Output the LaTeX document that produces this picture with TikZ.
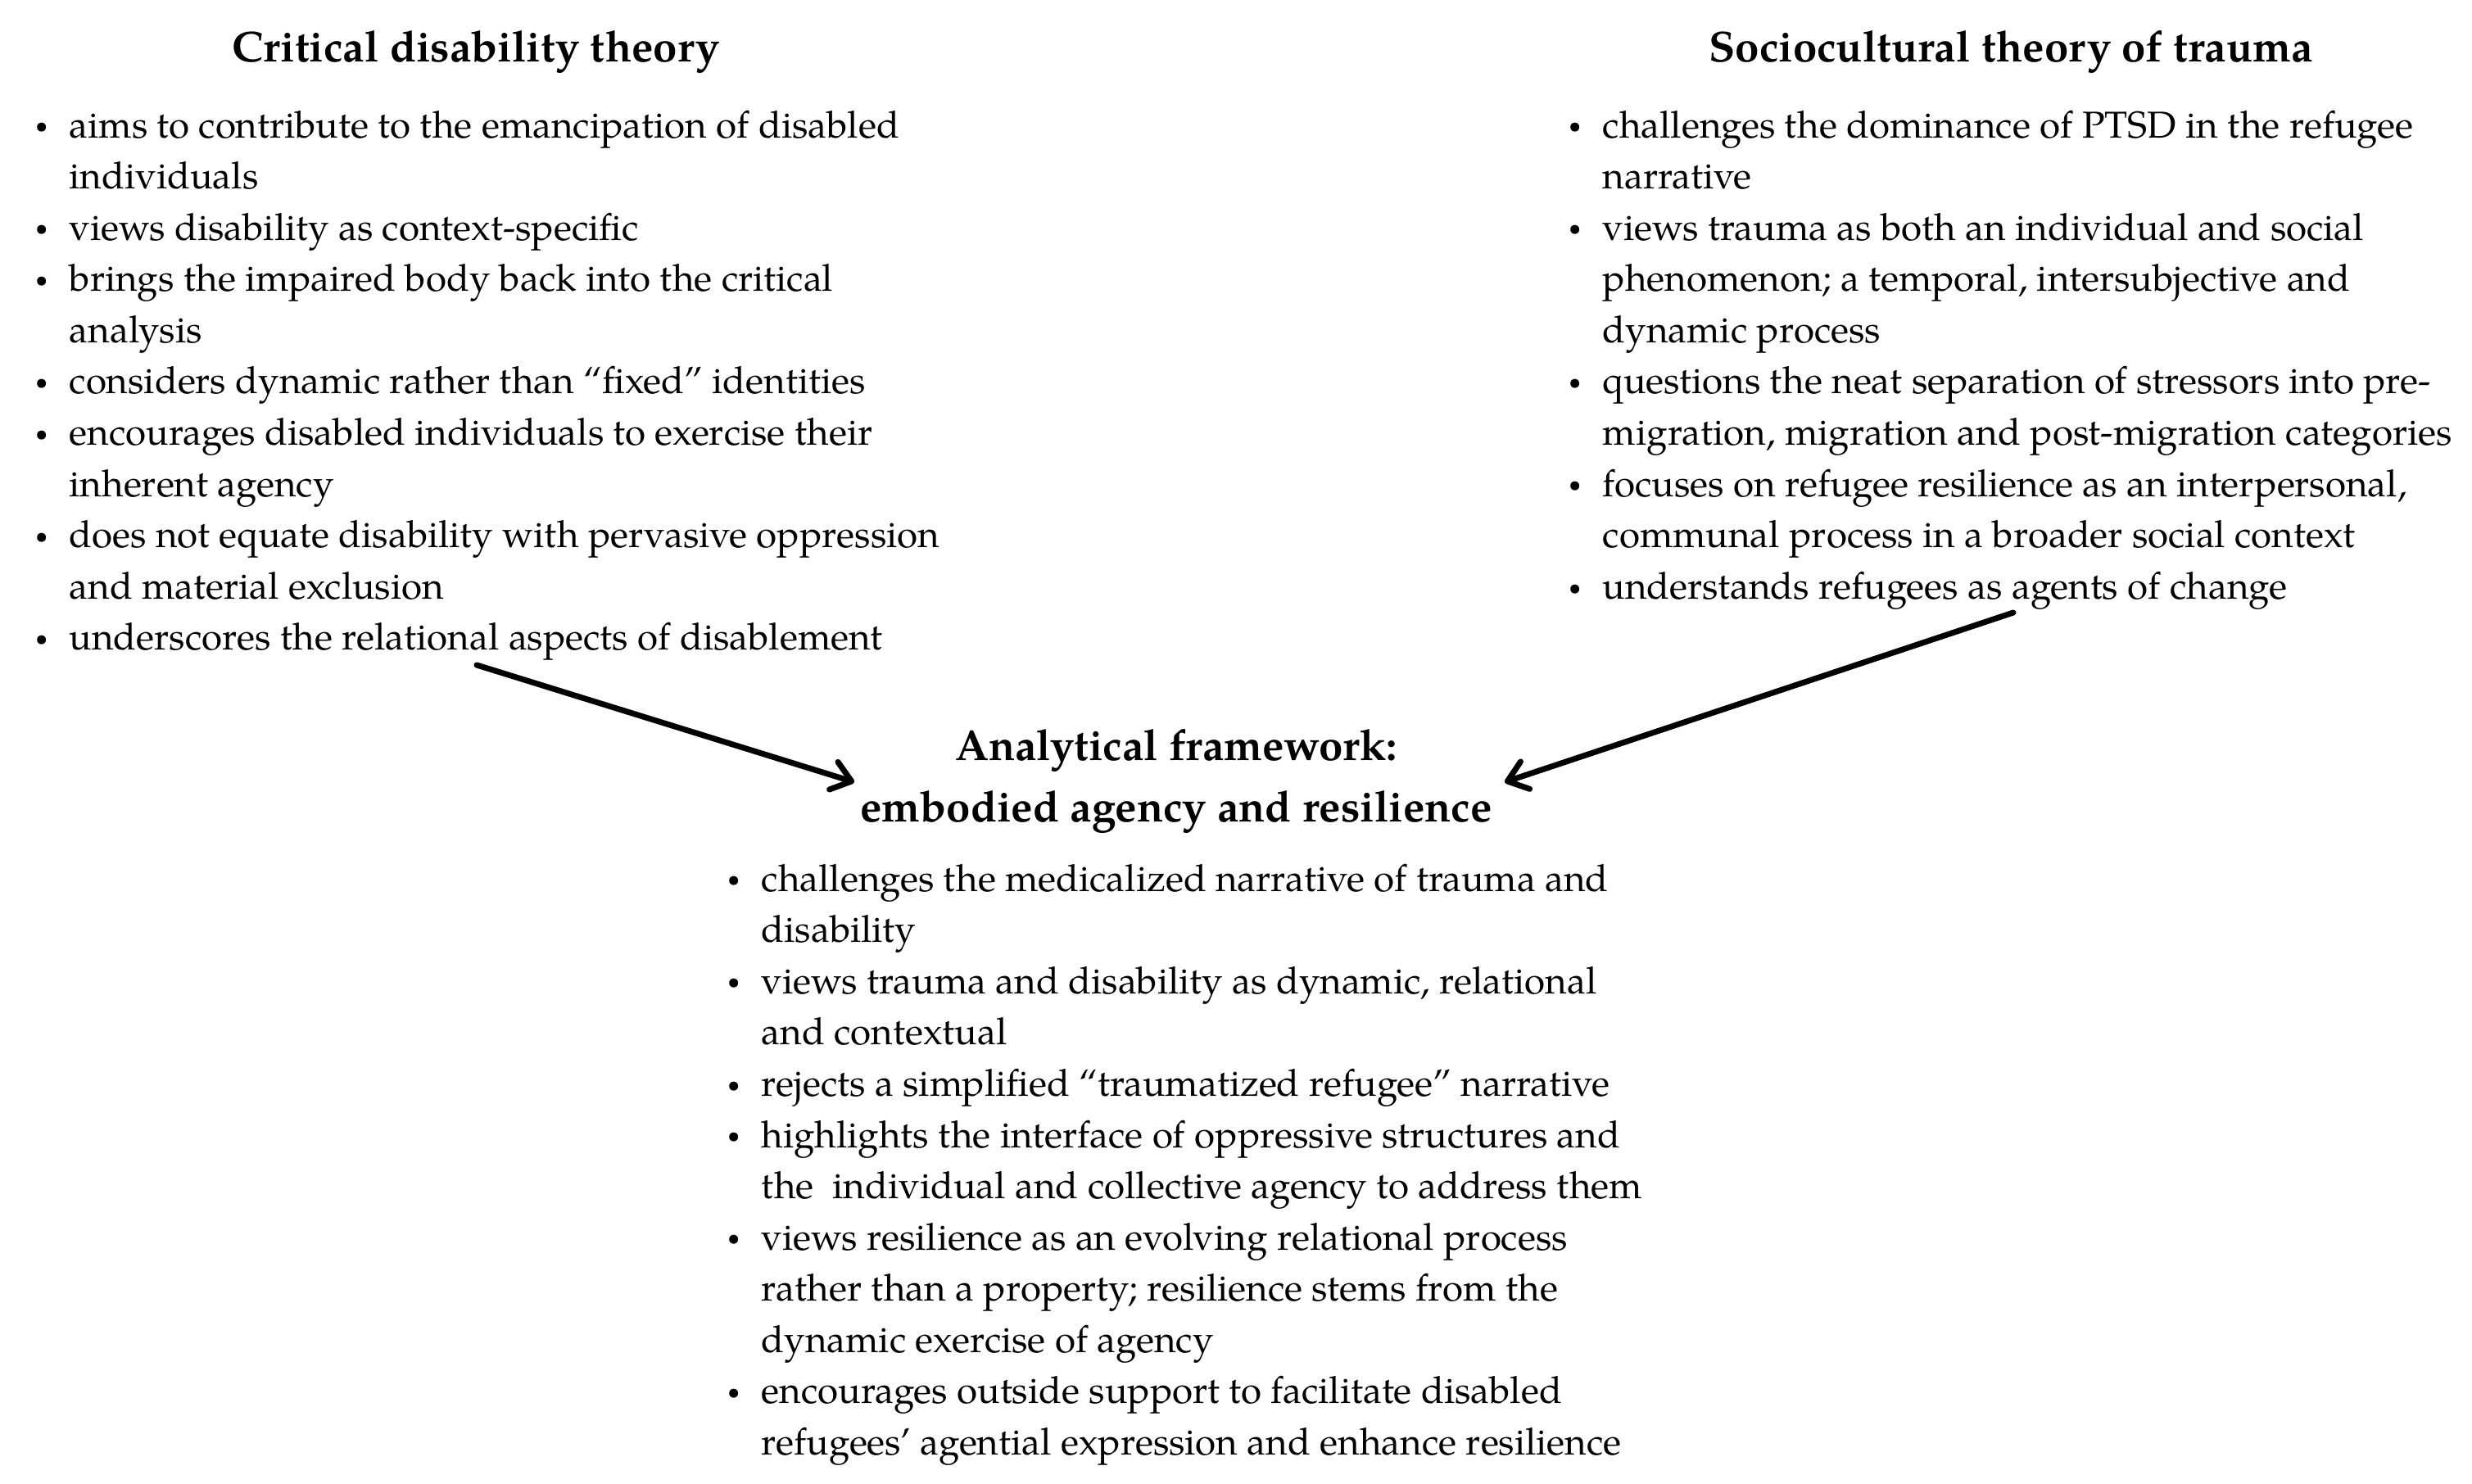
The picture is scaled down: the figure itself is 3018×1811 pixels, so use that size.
\documentclass[tikz,border=0pt]{standalone}
\usepackage{fontspec}
\setmainfont{TeX Gyre Pagella}
\usepackage{array}
\usepackage{graphicx}
\usetikzlibrary{arrows.meta}
\newcommand{\bul}{\raisebox{0.25ex}{\scalebox{0.6}{\textbullet}}}
\newcommand{\bulcols}[1]{\renewcommand{\arraystretch}{1}\begin{tabular}[t]{@{}wc{0.68cm}@{}l@{}}#1\end{tabular}}
\tikzset{
  coltext/.style={anchor=base west, inner sep=0pt, font=\fontsize{13}{17.8}\selectfont},
  heading/.style={anchor=base, inner sep=0pt, font=\fontsize{15}{17.8}\selectfont\bfseries},
  arr/.style={line width=2pt, line cap=round, -{Straight Barb[length=6.5pt, width=10pt, line width=2pt, round]}}
}
\begin{document}
\begin{tikzpicture}[x=0.01cm, y=-0.01cm]
\useasboundingbox (0,0) rectangle (3018,1811);
\node[heading] (lt) at (581,75) {Critical disability theory};
\node[heading] (rt) at (2455,75) {Sociocultural theory of trauma};
\node[heading] (ct1) at (1436,928) {Analytical framework:};
\node[heading] (ct2) at (1436,1003) {embodied agency and resilience};
\node[coltext] (lc) at (16,168) {\bulcols{
\bul & aims to contribute to the emancipation of disabled\\
 & individuals\\
\bul & views disability as context-specific\\
\bul & brings the impaired body back into the critical\\
 & analysis\\
\bul & considers dynamic rather than “fixed” identities\\
\bul & encourages disabled individuals to exercise their\\
 & inherent agency\\
\bul & does not equate disability with pervasive oppression\\
 & and material exclusion\\
\bul & underscores the relational aspects of disablement\\
}};
\node[coltext] (rc) at (1888,168) {\bulcols{
\bul & challenges the dominance of PTSD in the refugee\\
 & narrative\\
\bul & views trauma as both an individual and social\\
 & phenomenon; a temporal, intersubjective and\\
 & dynamic process\\
\bul & questions the neat separation of stressors into pre-\\
 & migration, migration and post-migration categories\\
\bul & focuses on refugee resilience as an interpersonal,\\
 & communal process in a broader social context\\
\bul & understands refugees as agents of change\\
}};
\node[coltext] (cc) at (861,1088) {\bulcols{
\bul & challenges the medicalized narrative of trauma and\\
 & disability\\
\bul & views trauma and disability as dynamic, relational\\
 & and contextual\\
\bul & rejects a simplified “traumatized refugee” narrative\\
\bul & highlights the interface of oppressive structures and\\
 & the\ \ individual and collective agency to address them\\
\bul & views resilience as an evolving relational process\\
 & rather than a property; resilience stems from the\\
 & dynamic exercise of agency\\
\bul & encourages outside support to facilitate disabled\\
 & refugees’ agential expression and enhance resilience\\
}};
\coordinate (ls) at (582,812);
\coordinate (le) at (1043,955);
\coordinate (rs) at (2458,748);
\coordinate (re) at (1837,955);
\draw[arr] (ls) -- (le);
\draw[arr] (rs) -- (re);
\end{tikzpicture}
\end{document}
